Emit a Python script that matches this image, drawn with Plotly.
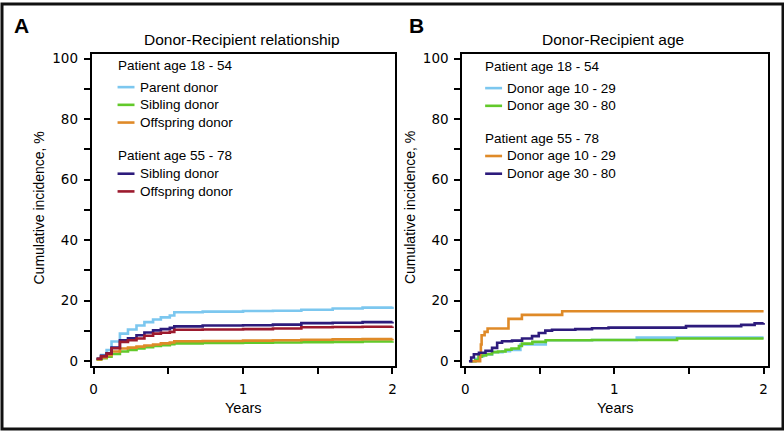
import plotly.graph_objects as go

W, H = 784, 432

# ---- data (years, cumulative incidence %) ----
# Panel A: Donor-Recipient relationship
t_a = [0.02, 0.05, 0.087, 0.12, 0.176, 0.23, 0.287, 0.34, 0.398, 0.45,
       0.51, 0.54, 0.73, 1.0, 1.2, 1.39, 1.6, 1.8, 2.0]
a_parent_young = [0.8, 2.0, 3.7, 6.5, 9.1, 10.5, 11.8, 12.9, 13.8, 14.5,
                  15.1, 16.2, 16.4, 16.6, 16.7, 17.0, 17.4, 17.7, 18.0]
a_sibling_young = [0.5, 1.0, 1.5, 2.4, 3.2, 3.7, 4.2, 4.6, 5.0, 5.3,
                   5.6, 5.9, 6.0, 6.1, 6.2, 6.3, 6.4, 6.5, 6.6]
a_offspring_young = [0.6, 1.2, 2.0, 3.2, 4.2, 4.5, 4.8, 5.2, 5.5, 5.9,
                     6.2, 6.6, 6.7, 6.8, 6.9, 7.1, 7.2, 7.3, 7.4]
a_sibling_old = [0.8, 1.8, 2.6, 4.5, 6.9, 7.6, 8.6, 9.5, 10.2, 10.6,
                 11.0, 11.5, 11.8, 11.9, 12.1, 12.6, 12.7, 12.9, 13.0]
a_offspring_old = [0.8, 1.6, 2.5, 4.3, 6.4, 6.9, 7.5, 8.4, 9.1, 9.4,
                   9.7, 10.4, 10.5, 10.6, 10.8, 11.2, 11.3, 11.4, 11.5]

# Panel B: Donor-Recipient age
b_young_d1029_t = [0.03, 0.07, 0.09, 0.12, 0.18, 0.25, 0.30, 0.37, 0.54, 0.85, 1.15, 2.0]
b_young_d1029 = [0.0, 0.8, 1.6, 2.2, 3.0, 3.3, 3.7, 5.5, 6.9, 7.0, 7.8, 7.8]
b_young_d3080_t = [0.04, 0.067, 0.09, 0.11, 0.14, 0.18, 0.22, 0.27, 0.31, 0.36,
                   0.38, 0.45, 0.54, 0.85, 1.42, 2.0]
b_young_d3080 = [0.0, 0.4, 1.5, 1.9, 2.3, 3.0, 3.2, 3.8, 4.2, 5.0,
                 5.8, 6.4, 6.9, 7.0, 7.5, 7.5]
b_old_d1029_t = [0.03, 0.10, 0.105, 0.11, 0.13, 0.15, 0.29, 0.38, 0.65, 2.0]
b_old_d1029 = [0.0, 2.5, 5.5, 8.6, 9.7, 10.8, 14.0, 15.3, 16.5, 16.5]
b_old_d3080_t = [0.025, 0.04, 0.058, 0.092, 0.136, 0.18, 0.214, 0.247, 0.314, 0.381,
                 0.448, 0.493, 0.537, 0.582, 0.738, 0.85, 0.961, 1.48, 1.85, 1.94, 2.0]
b_old_d3080 = [0.0, 1.2, 2.3, 2.8, 3.4, 4.4, 6.1, 6.6, 6.8, 7.5,
               8.3, 9.3, 10.1, 10.4, 10.6, 10.9, 11.1, 11.6, 12.0, 12.5, 12.6]

titles = ["Donor-Recipient relationship", "Donor-Recipient age"]
panel_letters = ["A", "B"]
group_titles = ["Patient age 18 - 54", "Patient age 55 - 78"]
names_a = ["Parent donor", "Sibling donor", "Offspring donor", "Sibling donor", "Offspring donor"]
names_b = ["Donor age 10 - 29", "Donor age 30 - 80", "Donor age 10 - 29", "Donor age 30 - 80"]
x_ticks = [0, 0.5, 1, 1.5, 2]
x_ticklabels = ["0", "", "1", "", "2"]
y_ticks = list(range(0, 101, 10))
y_ticklabels = [str(v) if v % 20 == 0 else "" for v in y_ticks]

LBLUE, GREEN, ORANGE, PURPLE, RED = "#7cc7ef", "#62c92a", "#df8a28", "#2d1b7c", "#9c1a2e"
TXT = "Liberation Sans, Arial, sans-serif"
NARROW = "Liberation Sans Narrow, Arial Narrow, Liberation Sans, sans-serif"

def px(x):
    return x / W

def py(y):
    return 1 - y / H

fig = go.Figure()

# panel A traces (draw order as in the original)
for y, c in [(a_parent_young, LBLUE), (a_sibling_young, GREEN), (a_offspring_young, ORANGE),
             (a_sibling_old, PURPLE), (a_offspring_old, RED)]:
    fig.add_trace(go.Scatter(x=t_a, y=y, mode="lines", line=dict(color=c, width=2.6, shape="hv"),
                             xaxis="x", yaxis="y", showlegend=False, hoverinfo="skip"))

# panel B traces
for t, y, c in [(b_young_d1029_t, b_young_d1029, LBLUE), (b_young_d3080_t, b_young_d3080, GREEN),
                (b_old_d1029_t, b_old_d1029, ORANGE), (b_old_d3080_t, b_old_d3080, PURPLE)]:
    fig.add_trace(go.Scatter(x=t, y=y, mode="lines", line=dict(color=c, width=2.6, shape="hv"),
                             xaxis="x2", yaxis="y2", showlegend=False, hoverinfo="skip"))

def xaxis(dom, rng, anchor):
    return dict(domain=dom, range=rng, tickvals=x_ticks, ticktext=x_ticklabels, anchor=anchor,
                ticks="outside", ticklen=6, tickwidth=1.5, tickcolor="black", ticklabelstandoff=4,
                showline=True, mirror=True, linecolor="black", linewidth=1.8,
                showgrid=False, zeroline=False,
                tickfont=dict(family="DejaVu Sans", size=13.5, color="black"))

def yaxis(dom, anchor):
    return dict(domain=dom, range=[-1.6, 101.5], tickvals=y_ticks, ticktext=y_ticklabels,
                ticks="outside", ticklen=6, tickwidth=1.5, tickcolor="black", anchor=anchor,
                ticklabelstandoff=3,
                showline=True, mirror=True, linecolor="black", linewidth=1.8,
                showgrid=False, zeroline=False,
                tickfont=dict(family="DejaVu Sans", size=13.5, color="black"))

ydom = [py(368), py(51)]
annotations = []
shapes = []

def note(x, y, text, size, family=TXT, xanchor="center", angle=0):
    annotations.append(dict(x=px(x), y=py(y), text=text, showarrow=False, textangle=angle,
                            xanchor=xanchor, yanchor="middle", xref="paper", yref="paper",
                            font=dict(family=family, size=size, color="black")))

# axis titles, panel titles, letters
for i, (x0, x1) in enumerate([(90, 395), (462, 769)]):
    xc = (x0 + x1) / 2
    note(xc - 2, 36, titles[i], 15.5)
    note(x0 - 53, 207, "Cumulative incidence, %", 14, NARROW, angle=-90)
    note(xc, 411, "Years", 14.5, NARROW)
note(10, 22, "<b>A</b>", 21, xanchor="left")
note(407, 22, "<b>B</b>", 21, xanchor="left")

# legends
def legend(x_line, x_text, header_rows, rows):
    for txt, yy in header_rows:
        note(x_line - 2, yy, txt, 13.5, xanchor="left")
    for txt, yy, col in rows:
        shapes.append(dict(type="line", xref="paper", yref="paper", x0=px(x_line), x1=px(x_line + 17),
                           y0=py(yy), y1=py(yy), line=dict(color=col, width=2.6)))
        note(x_text - 2, yy, txt, 13.5, xanchor="left")

legend(116, 139, [(group_titles[0], 63), (group_titles[1], 154)],
       [(names_a[0], 84.5, LBLUE), (names_a[1], 102.5, GREEN), (names_a[2], 120.5, ORANGE),
        (names_a[3], 172.5, PURPLE), (names_a[4], 190.5, RED)])
legend(485, 507, [(group_titles[0], 64), (group_titles[1], 136.5)],
       [(names_b[0], 85.5, LBLUE), (names_b[1], 103.5, GREEN),
        (names_b[2], 154.5, ORANGE), (names_b[3], 172.5, PURPLE)])

# outer frame
shapes.append(dict(type="rect", xref="paper", yref="paper", x0=0, x1=1, y0=0, y1=1,
                   line=dict(color="#111", width=3)))

fig.update_layout(
    width=W, height=H, margin=dict(l=0, r=0, t=0, b=0),
    paper_bgcolor="white", plot_bgcolor="white",
    xaxis=xaxis([px(90), px(395)], [-0.013, 2.02], "y"),
    yaxis=yaxis(ydom, "x"),
    xaxis2=xaxis([px(462), px(769)], [-0.02, 2.03], "y2"),
    yaxis2=yaxis(ydom, "x2"),
    annotations=annotations, shapes=shapes,
)

fig.write_html("out.html", config={"displayModeBar": False},
               post_script="document.body.style.margin='0';")
